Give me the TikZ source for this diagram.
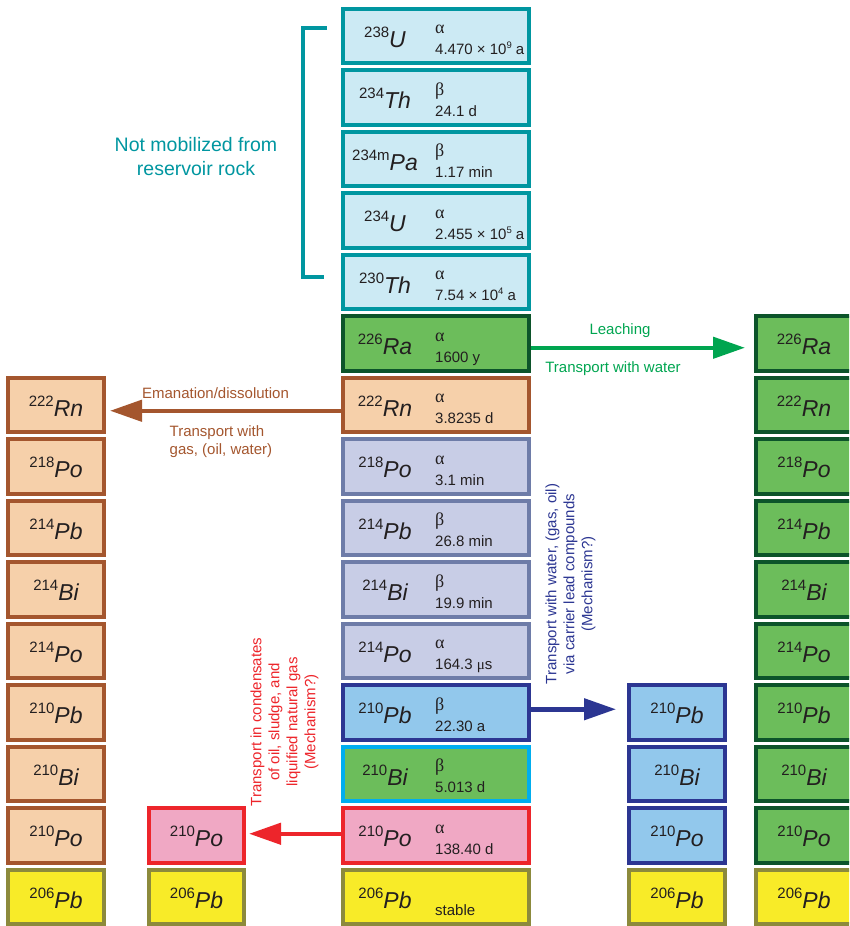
\documentclass[tikz,border=0pt]{standalone}
\usepackage{fontspec}
\setmainfont{Liberation Sans}
\newfontfamily\grk{Liberation Serif}
\usetikzlibrary{arrows.meta,calc}

\definecolor{tealB}{RGB}{0,150,160}
\definecolor{cyanF}{RGB}{204,234,244}
\definecolor{greenF}{RGB}{108,189,91}
\definecolor{dgreenB}{RGB}{12,84,42}
\definecolor{peachF}{RGB}{246,208,170}
\definecolor{brownB}{RGB}{164,86,46}
\definecolor{lavF}{RGB}{200,205,230}
\definecolor{slateB}{RGB}{110,124,168}
\definecolor{lblueF}{RGB}{146,200,236}
\definecolor{navyB}{RGB}{44,54,146}
\definecolor{cyanB}{RGB}{0,174,239}
\definecolor{pinkF}{RGB}{240,168,196}
\definecolor{redB}{RGB}{237,37,43}
\definecolor{yellowF}{RGB}{248,235,40}
\definecolor{oliveB}{RGB}{140,138,60}
\definecolor{leachG}{RGB}{0,165,80}
\definecolor{txt}{RGB}{35,31,32}

\newcommand\iso[2]{\raisebox{10pt}{\fontsize{15}{15}\selectfont #1}{\fontsize{23}{23}\selectfont\itshape #2}}
\newcommand\pw[1]{\raisebox{6pt}{\fontsize{9.5}{9.5}\selectfont #1}}

\newcommand\cenbox[7]{%
  \pgfmathsetmacro\cy{35.75+61.5*#2}%
  \node[box,#3,minimum width=186pt] (#1) at (436,\cy) {};
  \node[elem] (#1t) at (385,\cy+11.5) {\iso{#4}{#5}};
  \node[mode] (#1m) at (435,\cy-2.25) {#6};
  \node[hl] (#1h) at (435,\cy+18.75) {#7};
}
\newcommand\sidebox[7]{%
  \pgfmathsetmacro\cy{35.75+61.5*#4}%
  \node[box,#5,minimum width=#3] (#1) at (#2,\cy) {};
  \node[elem] (#1t) at (#2,\cy+11.5) {\iso{#6}{#7}};
}

\tikzset{
  box/.style={rectangle, line width=4pt, minimum height=54.5pt, inner sep=0pt},
  elem/.style={anchor=base, inner sep=0pt, text=txt},
  mode/.style={anchor=base west, inner sep=0pt, text=txt, font=\grk\fontsize{18}{18}\selectfont},
  hl/.style={anchor=base west, inner sep=0pt, text=txt, font=\fontsize{15}{15}\selectfont},
  cyanbox/.style={fill=cyanF, draw=tealB},
  greenbox/.style={fill=greenF, draw=dgreenB},
  peachbox/.style={fill=peachF, draw=brownB},
  lavbox/.style={fill=lavF, draw=slateB},
  bluebox/.style={fill=lblueF, draw=navyB},
  bibox/.style={fill=greenF, draw=cyanB},
  pinkbox/.style={fill=pinkF, draw=redB},
  yellowbox/.style={fill=yellowF, draw=oliveB},
  arr/.style={line width=4.5pt, -{Triangle[length=32pt,width=21pt]}},
  lab/.style={inner sep=0pt, font=\fontsize{15}{17.5}\selectfont},
  rot/.style={inner sep=0pt, rotate=90, align=center, font=\fontsize{15}{18}\selectfont},
}

\begin{document}
\begin{tikzpicture}[x=1pt,y=-1pt]
\useasboundingbox (0,0) rectangle (849,926);
\clip (0,0) rectangle (849,926);

% centre column
\cenbox{c0}{0}{cyanbox}{238}{U}{α}{4.470 × 10\pw{9} a}
\cenbox{c1}{1}{cyanbox}{234}{Th}{β}{24.1 d}
\cenbox{c2}{2}{cyanbox}{234m}{Pa}{β}{1.17 min}
\cenbox{c3}{3}{cyanbox}{234}{U}{α}{2.455 × 10\pw{5} a}
\cenbox{c4}{4}{cyanbox}{230}{Th}{α}{7.54 × 10\pw{4} a}
\cenbox{c5}{5}{greenbox}{226}{Ra}{α}{1600 y}
\cenbox{c6}{6}{peachbox}{222}{Rn}{α}{3.8235 d}
\cenbox{c7}{7}{lavbox}{218}{Po}{α}{3.1 min}
\cenbox{c8}{8}{lavbox}{214}{Pb}{β}{26.8 min}
\cenbox{c9}{9}{lavbox}{214}{Bi}{β}{19.9 min}
\cenbox{c10}{10}{lavbox}{214}{Po}{α}{164.3 {\grk μ}s}
\cenbox{c11}{11}{bluebox}{210}{Pb}{β}{22.30 a}
\cenbox{c12}{12}{bibox}{210}{Bi}{β}{5.013 d}
\cenbox{c13}{13}{pinkbox}{210}{Po}{α}{138.40 d}
\pgfmathsetmacro\cy{35.75+61.5*14}
\node[box,yellowbox,minimum width=186pt] (c14) at (436,\cy) {};
\node[elem] (c14t) at (385,\cy+11.5) {\iso{206}{Pb}};
\node[hl] (c14h) at (435,\cy+18.75) {stable};

% left column
\sidebox{l6}{56}{96pt}{6}{peachbox}{222}{Rn}
\sidebox{l7}{56}{96pt}{7}{peachbox}{218}{Po}
\sidebox{l8}{56}{96pt}{8}{peachbox}{214}{Pb}
\sidebox{l9}{56}{96pt}{9}{peachbox}{214}{Bi}
\sidebox{l10}{56}{96pt}{10}{peachbox}{214}{Po}
\sidebox{l11}{56}{96pt}{11}{peachbox}{210}{Pb}
\sidebox{l12}{56}{96pt}{12}{peachbox}{210}{Bi}
\sidebox{l13}{56}{96pt}{13}{peachbox}{210}{Po}
\sidebox{l14}{56}{96pt}{14}{yellowbox}{206}{Pb}

% second left column
\sidebox{s13}{196.5}{95pt}{13}{pinkbox}{210}{Po}
\sidebox{s14}{196.5}{95pt}{14}{yellowbox}{206}{Pb}

% right-centre column
\sidebox{m11}{677}{96pt}{11}{bluebox}{210}{Pb}
\sidebox{m12}{677}{96pt}{12}{bluebox}{210}{Bi}
\sidebox{m13}{677}{96pt}{13}{bluebox}{210}{Po}
\sidebox{m14}{677}{96pt}{14}{yellowbox}{206}{Pb}

% right column
\sidebox{r5}{804}{96pt}{5}{greenbox}{226}{Ra}
\sidebox{r6}{804}{96pt}{6}{greenbox}{222}{Rn}
\sidebox{r7}{804}{96pt}{7}{greenbox}{218}{Po}
\sidebox{r8}{804}{96pt}{8}{greenbox}{214}{Pb}
\sidebox{r9}{804}{96pt}{9}{greenbox}{214}{Bi}
\sidebox{r10}{804}{96pt}{10}{greenbox}{214}{Po}
\sidebox{r11}{804}{96pt}{11}{greenbox}{210}{Pb}
\sidebox{r12}{804}{96pt}{12}{greenbox}{210}{Bi}
\sidebox{r13}{804}{96pt}{13}{greenbox}{210}{Po}
\sidebox{r14}{804}{96pt}{14}{yellowbox}{206}{Pb}

% bracket and its label
\draw[tealB, line width=4pt] (327,28) -- (303,28) -- (303,277) -- (324,277);
\node[inner sep=0pt, align=center, text=tealB, font=\fontsize{19.5}{24}\selectfont] (notmob) at (196,157) {Not mobilized from\\reservoir rock};

% arrows
\draw[arr, leachG, shorten >=9pt] ($(c5.east)+(0,4.5)$) -- ($(r5.west)+(0,4.5)$);
\draw[arr, brownB, shorten >=4pt] ($(c6.west)+(0,6)$) -- ($(l6.east)+(0,6)$);
\draw[arr, navyB, shorten >=11pt] ($(c11.east)+(0,-3)$) -- ($(m11.west)+(0,-3)$);
\draw[arr, redB, shorten >=3pt] ($(c13.west)+(0,-1.5)$) -- ($(s13.east)+(0,-1.5)$);

% arrow labels
\node[lab, text=leachG] (leach) at (620,331) {Leaching};
\node[lab, text=leachG] (tww) at (613,369) {Transport with water};
\node[lab, text=brownB] (eman) at (215.5,393) {Emanation/dissolution};
\node[lab, text=brownB, anchor=west, align=left] (twg) at (169.5,441.5) {Transport with\\gas, (oil, water)};
\node[rot, text=navyB] (nrot) at (570.5,584) {Transport with water, (gas, oil)\\via carrier lead compounds\\(Mechanism?)};
\node[rot, text=redB] (rrot) at (284.5,722) {Transport in condensates\\of oil, sludge, and\\liquified natural gas\\(Mechanism?)};
\end{tikzpicture}
\end{document}
